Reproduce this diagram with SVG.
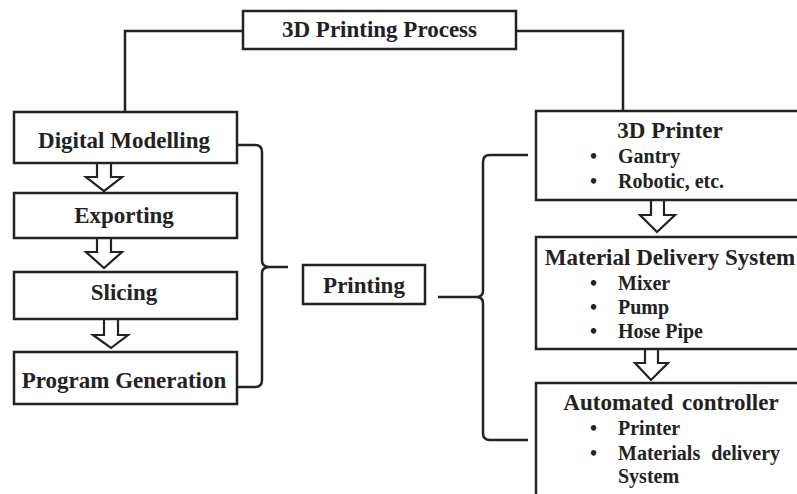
<svg xmlns="http://www.w3.org/2000/svg" width="797" height="494" viewBox="0 0 797 494">
<defs>
<style>
.box{fill:#fff;stroke:#222;stroke-width:2.5}
.ln{fill:none;stroke:#222;stroke-width:2.5}
.arr{fill:#fff;stroke:#222;stroke-width:2.2;stroke-linejoin:miter}
.h{font-family:"Liberation Serif","Times New Roman",serif;font-weight:bold;font-size:23px;fill:#222}
.b{font-family:"Liberation Serif","Times New Roman",serif;font-weight:bold;font-size:20px;fill:#222}
</style>
</defs>
<rect width="797" height="494" fill="#fff"/>
<g id="connectors">
<path class="ln" d="M243,31 H125 V112"/>
<path class="ln" d="M516,31 H623 V111"/>
<path class="ln" d="M237,145 H255 Q262,145 262,152 V261 Q262,267 270,267 H288 M270,267 Q262,267 262,273 V380 Q262,387 255,387 H237"/>
<path class="ln" d="M528,155 H490 Q483,155 483,162 V291 Q483,297 476,297 H438 M476,297 Q483,297 483,303 V433 Q483,440 490,440 H528"/>
<polygon class="arr" points="97,163 111,163 111,177 122,177 104,191 86,177 97,177"/>
<polygon class="arr" points="97,238 111,238 111,252 122,252 104,268 86,252 97,252"/>
<polygon class="arr" points="104,319 118,319 118,335 128,335 111,348 93,335 104,335"/>
<polygon class="arr" points="651,200 664,200 664,215 675,215 657,232 640,215 651,215"/>
<polygon class="arr" points="645,349 658,349 658,363 668,363 651,380 635,363 645,363"/>
</g>
<g id="title">
<rect class="box" x="243" y="11" width="273" height="38"/>
<text class="h" x="379.5" y="37" text-anchor="middle">3D Printing Process</text>
</g>
<g id="digital-modelling">
<rect class="box" x="14" y="112" width="223" height="51"/>
<text class="h" x="124" y="148" text-anchor="middle">Digital Modelling</text>
</g>
<g id="exporting">
<rect class="box" x="14" y="193" width="223" height="45"/>
<text class="h" x="124" y="223" text-anchor="middle">Exporting</text>
</g>
<g id="slicing">
<rect class="box" x="14" y="272" width="223" height="47"/>
<text class="h" x="124" y="300" text-anchor="middle">Slicing</text>
</g>
<g id="program-generation">
<rect class="box" x="14" y="352" width="223" height="52"/>
<text class="h" x="124" y="388" text-anchor="middle">Program Generation</text>
</g>
<g id="printing">
<rect class="box" x="303" y="265" width="122" height="39"/>
<text class="h" x="364" y="293" text-anchor="middle">Printing</text>
</g>
<g id="3d-printer">
<rect class="box" x="536" y="111" width="270" height="89"/>
<text class="h" x="670" y="138" text-anchor="middle">3D Printer</text>
<text class="b" x="590" y="163">•</text>
<text class="b" x="618" y="163">Gantry</text>
<text class="b" x="590" y="188">•</text>
<text class="b" x="618" y="188">Robotic, etc.</text>
</g>
<g id="material-delivery">
<rect class="box" x="536" y="237" width="270" height="112"/>
<text class="h" x="670" y="265" text-anchor="middle">Material Delivery System</text>
<text class="b" x="590" y="290">•</text>
<text class="b" x="618" y="290">Mixer</text>
<text class="b" x="590" y="314">•</text>
<text class="b" x="618" y="314">Pump</text>
<text class="b" x="590" y="338">•</text>
<text class="b" x="618" y="338">Hose Pipe</text>
</g>
<g id="automated-controller">
<rect class="box" x="536" y="383" width="270" height="120"/>
<text class="h" x="671" y="410" text-anchor="middle" word-spacing="3">Automated controller</text>
<text class="b" x="590" y="435">•</text>
<text class="b" x="618" y="435">Printer</text>
<text class="b" x="590" y="460">•</text>
<text class="b" x="618" y="460" word-spacing="6">Materials delivery</text>
<text class="b" x="618" y="483">System</text>
</g>
</svg>
